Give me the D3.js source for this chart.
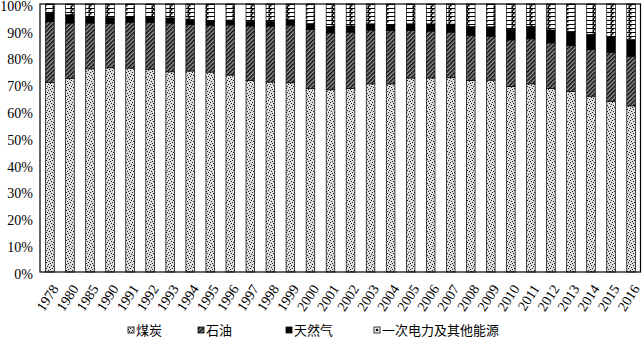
<!DOCTYPE html>
<html>
<head>
<meta charset="utf-8">
<script src="https://cdn.jsdelivr.net/npm/d3@7"></script>
<style>
  html, body { margin: 0; padding: 0; background: #fff; }
  svg { display: block; }
</style>
</head>
<body>
<svg id="chart" width="642" height="339"></svg>
<script>
// China primary energy consumption structure (%)
const years = ["1978","1980","1985","1990","1991","1992","1993","1994","1995","1996",
  "1997","1998","1999","2000","2001","2002","2003","2004","2005","2006",
  "2007","2008","2009","2010","2011","2012","2013","2014","2015","2016"];
const coal  = [70.7,72.2,75.8,76.2,76.1,75.7,74.7,75.0,74.6,73.5,71.4,70.9,70.6,68.5,68.0,68.5,70.2,70.2,72.4,72.4,72.5,71.5,71.6,69.2,70.2,68.5,67.4,65.6,63.7,62.0];
const oil   = [22.7,20.7,17.1,16.6,17.1,17.5,18.2,17.4,17.5,18.7,20.4,20.8,21.5,22.0,21.2,21.0,20.1,19.9,17.8,17.5,17.0,16.7,16.4,17.4,16.8,17.0,17.1,17.4,18.3,18.5];
const gas   = [3.2,3.1,2.2,2.1,2.0,1.9,1.9,1.9,1.8,1.8,1.8,1.8,2.0,2.2,2.4,2.3,2.3,2.3,2.4,2.7,3.0,3.4,3.5,4.0,4.6,4.8,5.3,5.7,5.9,6.2];
const other = [3.4,4.0,4.9,5.1,4.8,4.9,5.2,5.7,6.1,6.0,6.4,6.5,5.9,7.3,8.4,8.2,7.4,7.6,7.4,7.4,7.5,8.4,8.5,9.4,8.4,9.7,10.2,11.3,12.1,13.3];
const seriesNames = ["煤炭","石油","天然气","一次电力及其他能源"];
const yTicks = [0,10,20,30,40,50,60,70,80,90,100];

const svg = d3.select("#chart");
const margin = { left: 40, right: 1, top: 4, bottom: 67 };
const W = 642, H = 339;

// fill patterns
const defs = svg.append("defs");
// coal: speckled dots
const pCoal = defs.append("pattern").attr("id","pCoal").attr("patternUnits","userSpaceOnUse")
  .attr("width",6).attr("height",6);
pCoal.append("rect").attr("width",6).attr("height",6).attr("fill","#dcdcdc");
[[0,0],[3,1],[1,3],[4,4],[2,5],[5,2]].forEach(([x,y]) =>
  pCoal.append("rect").attr("x",x).attr("y",y).attr("width",1).attr("height",1).attr("fill","#222"));
// oil: diagonal hatch
const pOil = defs.append("pattern").attr("id","pOil").attr("patternUnits","userSpaceOnUse")
  .attr("width",3).attr("height",3).attr("patternTransform","rotate(45)");
pOil.append("rect").attr("width",3).attr("height",3).attr("fill","#9a9a9a");
pOil.append("rect").attr("width",1.6).attr("height",3).attr("fill","#111");
// other: chain pattern
const pOther = defs.append("pattern").attr("id","pOther").attr("patternUnits","userSpaceOnUse")
  .attr("width",9).attr("height",4);
pOther.append("rect").attr("width",9).attr("height",4).attr("fill","#fff");
pOther.append("rect").attr("x",0).attr("y",0).attr("width",9).attr("height",1).attr("fill","#000");
pOther.append("rect").attr("x",0).attr("y",0).attr("width",1.5).attr("height",2.5).attr("fill","#000");
pOther.append("rect").attr("x",7.5).attr("y",1.5).attr("width",1.5).attr("height",2.5).attr("fill","#000");

const fills = ["url(#pCoal)","url(#pOil)","#000","url(#pOther)"];

const x = d3.scaleBand().domain(years)
  .range([margin.left, W - margin.right]).paddingInner(0.57).paddingOuter(0.28);
const y = d3.scaleLinear().domain([0,100]).range([H - margin.bottom, margin.top]);

const rows = years.map((yr,i) => ({ year: yr, s0: coal[i], s1: oil[i], s2: gas[i], s3: other[i] }));
const stack = d3.stack().keys(["s0","s1","s2","s3"]);
const layers = stack(rows);

const g = svg.append("g");
layers.forEach((layer, k) => {
  g.selectAll(null).data(layer).enter().append("rect")
    .attr("x", d => x(d.data.year))
    .attr("width", x.bandwidth())
    .attr("y", d => y(Math.min(d[1],100)))
    .attr("height", d => y(d[0]) - y(Math.min(d[1],100)))
    .attr("fill", fills[k])
    .attr("stroke", "#000")
    .attr("stroke-width", 0.7);
});

// plot frame
svg.append("rect")
  .attr("x", margin.left).attr("y", margin.top)
  .attr("width", W - margin.right - margin.left - 0.5)
  .attr("height", y(0) - margin.top)
  .attr("fill","none").attr("stroke","#000").attr("stroke-width",1.2);

// y axis
const yAxis = svg.append("g").attr("transform", `translate(${margin.left},0)`)
  .call(d3.axisLeft(y).tickValues(yTicks).tickFormat(d => d + "%").tickSize(0).tickPadding(7));
yAxis.select(".domain").remove();
yAxis.selectAll("text").attr("font-family","'Liberation Serif', serif").attr("font-size",14)
  .attr("fill","#000").attr("dy","0.45em");

// x axis
const xAxis = svg.append("g").attr("transform", `translate(0,${y(0)})`)
  .call(d3.axisBottom(x).tickSize(0).tickPadding(0));
xAxis.select(".domain").remove();
xAxis.selectAll("text")
  .attr("font-family","'Liberation Serif', serif").attr("font-size",14).attr("fill","#000")
  .attr("text-anchor","end")
  .attr("transform","translate(5,14) rotate(-57)")
  .attr("dy","0.35em").attr("y",0);

// legend
const legendX = [128, 198, 286, 374];
const legend = svg.append("g");
seriesNames.forEach((name, k) => {
  const lx = legendX[k], ly = 330;
  legend.append("rect").attr("x", lx).attr("y", ly - 3).attr("width", 6).attr("height", 6)
    .attr("fill", k === 2 ? "#000" : (k === 3 ? "#fff" : fills[k]))
    .attr("stroke","#000").attr("stroke-width",0.8);
  if (k === 3) legend.append("rect").attr("x", lx + 1.8).attr("y", ly - 1.2).attr("width", 2.4).attr("height", 2.4).attr("fill","#000");
  legend.append("text").attr("x", lx + 8).attr("y", ly).attr("dy","0.35em")
    .attr("font-family","'Noto Sans CJK SC', sans-serif").attr("font-size",13).attr("fill","#000")
    .text(name);
});
</script>
</body>
</html>
